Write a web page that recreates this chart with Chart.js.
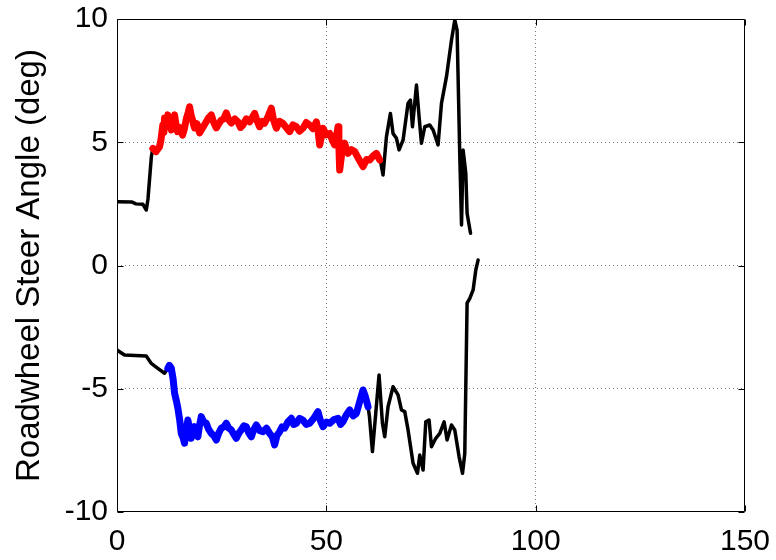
<!DOCTYPE html>
<html>
<head>
<meta charset="utf-8">
<title>Roadwheel Steer Angle</title>
<script src="https://cdn.jsdelivr.net/npm/chart.js@4"></script>
<style>
  html, body { margin: 0; padding: 0; background: #fff; }
  #chart { display: block; }
</style>
</head>
<body>
<canvas id="chart" width="776" height="560"></canvas>
<script>
// axis ticks
const xTicks = [0, 50, 100, 150];
const yTicks = [-10, -5, 0, 5, 10];

// upper trace [time, angle] — black lead-in, red segment, black tail
const upperStart = [
  [0, 2.59], [3.5, 2.58], [4.5, 2.5], [6.2, 2.48], [7.0, 2.25], [7.4, 2.7], [8.2, 4.4], [8.56, 4.75]
];
const upperRed = [
  [8.56, 4.75], [9.3, 4.62], [10.16, 4.82], [10.5, 5.1], [10.95, 5.7], [11.2, 5.4], [11.36, 5.98],
  [11.8, 5.7], [12.14, 6.11], [12.5, 5.75], [12.96, 5.5], [13.3, 5.85], [13.75, 6.11], [14.1, 5.7],
  [14.46, 5.43], [15.0, 5.6], [15.66, 5.29], [16.1, 5.55], [16.6, 5.98], [17.0, 6.2], [17.33, 6.44],
  [17.7, 6.1], [18.05, 5.9], [18.3, 5.7], [18.53, 5.58], [19.1, 5.75], [19.72, 5.38], [20.5, 5.6],
  [21.32, 5.83], [21.9, 6.0], [22.52, 6.11], [23.1, 5.8], [23.72, 5.58], [24.3, 5.75], [24.91, 5.9],
  [25.5, 5.95], [26.11, 6.19], [26.7, 5.9], [27.3, 5.78], [28.1, 5.95], [28.88, 5.83], [29.5, 5.6],
  [30.07, 5.7], [30.9, 5.95], [31.68, 5.83], [32.3, 6.0], [32.87, 6.17], [33.5, 5.85], [34.07, 5.63],
  [34.7, 5.85], [35.26, 5.77], [36.1, 6.05], [36.86, 6.38], [37.4, 5.9], [38.06, 5.57], [38.8, 5.85],
  [39.64, 5.77], [40.4, 5.6], [41.24, 5.43], [42.0, 5.7], [42.84, 5.63], [43.6, 5.45], [44.42, 5.57],
  [45.2, 5.8], [46.02, 5.7], [46.8, 5.55], [47.62, 5.83], [48.0, 5.5], [48.41, 4.89], [48.8, 5.2],
  [49.2, 5.57], [50.0, 5.3], [50.8, 5.36], [51.4, 5.1], [51.99, 4.89], [52.4, 5.2], [52.79, 5.63],
  [53.0, 4.8], [53.19, 3.87], [53.8, 4.7], [54.39, 4.96], [54.8, 4.7], [55.18, 4.55], [56.0, 4.7],
  [56.78, 4.62], [57.8, 4.3], [58.76, 4.01], [59.6, 4.3], [60.36, 4.28], [61.2, 4.45], [61.97, 4.55],
  [62.75, 4.28]
];
const upperEnd = [
  [62.75, 4.41], [63.54, 3.67], [64.36, 5.23], [65.31, 6.17], [65.93, 5.36], [66.75, 5.16], [67.37, 4.69],
  [68.33, 5.09], [69.52, 6.58], [70.09, 6.71], [70.57, 5.63], [71.53, 7.32], [72.15, 6.04], [72.72, 4.96],
  [73.51, 5.63], [74.71, 5.7], [75.5, 5.5], [76.69, 4.89], [77.5, 6.58], [78.7, 7.66], [79.9, 9.15],
  [80.68, 9.96], [81.23, 9.55], [81.47, 7.66], [81.88, 4.41], [82.29, 1.64], [82.67, 4.69], [83.31, 3.74],
  [83.62, 2.12], [84.44, 1.31]
];

// lower trace [time, angle] — black lead-in, blue segment, black tail
const lowerStart = [
  [0, -3.43], [1.79, -3.63], [6.98, -3.67], [8.18, -3.97], [9.75, -4.17], [11.36, -4.37], [12.14, -4.17]
];
const lowerBlue = [
  [12.14, -4.17], [12.5, -4.05], [12.96, -4.16], [13.4, -4.6], [13.75, -5.18], [14.2, -5.5], [14.54, -5.79],
  [15.0, -6.3], [15.35, -6.81], [15.8, -7.0], [16.14, -7.21], [16.5, -6.7], [16.93, -6.27], [17.3, -6.6],
  [17.74, -7.01], [18.1, -6.75], [18.53, -6.54], [18.9, -6.8], [19.32, -6.95], [19.7, -6.5], [20.13, -6.13],
  [20.7, -6.35], [21.32, -6.4], [21.9, -6.65], [22.52, -6.81], [23.1, -6.9], [23.72, -7.08], [24.3, -6.8],
  [24.91, -6.6], [25.5, -6.55], [26.11, -6.4], [26.7, -6.6], [27.3, -6.67], [27.9, -6.85], [28.5, -7.01],
  [29.1, -6.8], [29.69, -6.67], [30.3, -6.5], [30.89, -6.54], [31.5, -6.8], [32.08, -6.95], [32.7, -6.65],
  [33.28, -6.47], [34.1, -6.7], [34.86, -6.74], [35.7, -6.6], [36.46, -6.81], [37.1, -6.95], [37.65, -7.28],
  [38.2, -6.9], [38.85, -6.74], [39.4, -6.55], [40.04, -6.6], [40.8, -6.35], [41.64, -6.2], [42.2, -6.45],
  [42.84, -6.4], [43.6, -6.2], [44.42, -6.27], [45.2, -6.45], [46.02, -6.4], [47.0, -6.2], [48.0, -5.93],
  [48.6, -6.3], [49.2, -6.54], [50.0, -6.35], [50.8, -6.4], [51.8, -6.25], [52.79, -6.2], [53.4, -6.45],
  [53.98, -6.34], [54.8, -6.05], [55.58, -5.86], [56.4, -6.1], [57.18, -6.0], [58.0, -5.5], [58.76, -5.05],
  [59.3, -5.3], [59.96, -5.73]
];
const lowerEnd = [
  [59.96, -5.73], [60.3, -6.13], [61.01, -7.55], [61.8, -6.0], [62.59, -4.44], [63.4, -6.4], [63.95, -6.95],
  [64.74, -5.73], [65.93, -4.92], [67.13, -5.25], [67.94, -5.86], [68.73, -5.93], [69.52, -6.67], [70.72, -8.02],
  [71.77, -8.43], [72.32, -7.69], [73.11, -8.3], [73.75, -6.34], [74.54, -6.27], [75.11, -7.35], [76.14, -7.01],
  [77.1, -6.81], [78.13, -6.34], [78.84, -7.08], [79.89, -6.47], [80.68, -6.67], [81.71, -7.76], [82.53, -8.43],
  [83.07, -7.62], [83.62, -1.53], [84.27, -1.33], [85.06, -0.99], [85.7, -0.18], [86.25, 0.22]
];

const FONT = 'Arial, "Liberation Sans", Helvetica, sans-serif';

function toPts(arr) {
  return arr.map(p => ({ x: p[0], y: p[1] }));
}

function trace(data, color, width, order) {
  return {
    data: toPts(data),
    borderColor: color,
    backgroundColor: color,
    borderWidth: width,
    pointRadius: 0,
    tension: 0,
    fill: false,
    order: order,
    borderJoinStyle: 'round',
    borderCapStyle: 'round'
  };
}

// box around the plot + inward tick marks (matlab style)
const frame = {
  id: 'frame',
  afterDatasetsDraw(chart) {
    const { ctx, chartArea: a, scales } = chart;
    const L = Math.round(a.left) + 0.5, R = Math.round(a.right) - 0.5;
    const T = Math.round(a.top) + 0.5, B = Math.round(a.bottom) - 0.5;
    const len = 6;
    ctx.save();
    ctx.strokeStyle = '#000';
    ctx.lineWidth = 1;
    ctx.beginPath();
    ctx.rect(L, T, R - L, B - T);
    xTicks.forEach(v => {
      const px = Math.round(scales.x.getPixelForValue(v)) + 0.5;
      ctx.moveTo(px, B); ctx.lineTo(px, B - len);
      ctx.moveTo(px, T); ctx.lineTo(px, T + len);
    });
    yTicks.forEach(v => {
      const py = Math.round(scales.y.getPixelForValue(v)) + 0.5;
      ctx.moveTo(L, py); ctx.lineTo(L + len, py);
      ctx.moveTo(R, py); ctx.lineTo(R - len, py);
    });
    ctx.stroke();
    ctx.restore();
  }
};

function innerGrid(min, max) {
  return c => (c.tick && (c.tick.value === min || c.tick.value === max)) ? 'rgba(0,0,0,0)' : '#7a7a7a';
}

new Chart(document.getElementById('chart'), {
  type: 'line',
  data: {
    datasets: [
      trace(upperStart, '#000000', 3.5, 2),
      trace(upperEnd, '#000000', 3.5, 2),
      trace(lowerStart, '#000000', 3.5, 2),
      trace(lowerEnd, '#000000', 3.5, 2),
      trace(upperRed, '#ff0000', 7, 1),
      trace(lowerBlue, '#0000ff', 7, 1)
    ]
  },
  options: {
    responsive: false,
    animation: false,
    devicePixelRatio: 1,
    layout: { padding: { top: 19, right: 31, left: 0, bottom: 0 } },
    plugins: { legend: { display: false }, tooltip: { enabled: false } },
    scales: {
      x: {
        type: 'linear',
        min: 0,
        max: 150,
        afterBuildTicks: s => { s.ticks = xTicks.map(v => ({ value: v })); },
        afterFit: s => { s.height = 48; s.paddingLeft = 0; s.paddingRight = 0; },
        grid: { color: innerGrid(0, 150), lineWidth: 1, drawTicks: false },
        border: { display: false, dash: [1, 3] },
        ticks: { color: '#000', font: { family: FONT, size: 30 }, padding: 12, maxRotation: 0 }
      },
      y: {
        type: 'linear',
        min: -10,
        max: 10,
        afterBuildTicks: s => { s.ticks = yTicks.map(v => ({ value: v })); },
        afterFit: s => { s.width = 117; s.paddingTop = 0; s.paddingBottom = 0; },
        grid: { color: innerGrid(-10, 10), lineWidth: 1, drawTicks: false },
        border: { display: false, dash: [1, 3] },
        ticks: { color: '#000', font: { family: FONT, size: 30 }, padding: 9 },
        title: {
          display: true,
          text: 'Roadwheel Steer Angle (deg)',
          color: '#000',
          font: { family: FONT, size: 33 },
          padding: { top: 10, bottom: 0 }
        }
      }
    }
  },
  plugins: [frame]
});
</script>
</body>
</html>
